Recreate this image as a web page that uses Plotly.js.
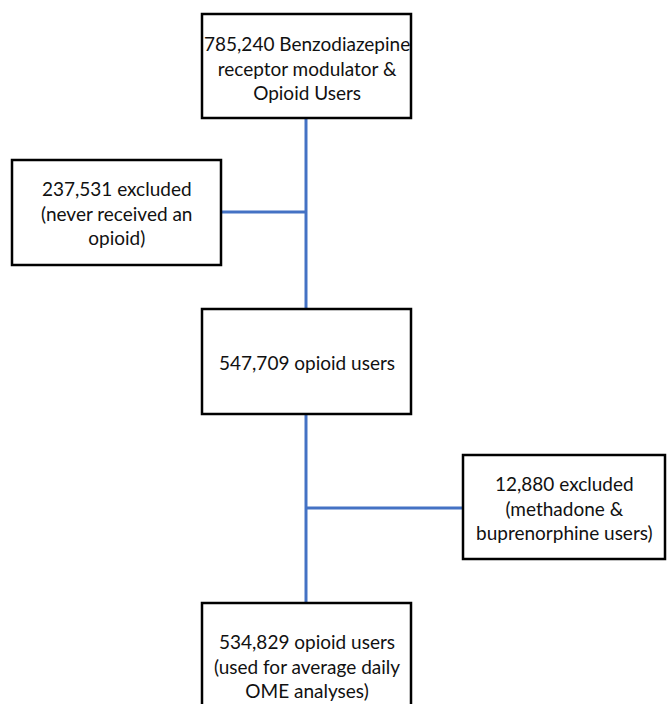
<!DOCTYPE html>
<html><head><meta charset="utf-8">
<script src="https://cdn.plot.ly/plotly-3.0.1.min.js"></script>
<style>html,body{margin:0;padding:0;background:#fff}#c{width:667px;height:704px}</style>
</head><body><div id="c"></div>
<script>
// Flowchart content
var counts = ["785,240", "237,531", "547,709", "12,880", "534,829"];
var labels = [
  "785,240 Benzodiazepine<br>receptor modulator &<br>Opioid Users",
  "237,531 excluded<br>(never received an<br>opioid)",
  "547,709 opioid users",
  "12,880 excluded<br>(methadone &<br>buprenorphine users)",
  "534,829 opioid users<br>(used for average daily<br>OME analyses)"
];
// Box layout (pixel frame): x0, x1, y0, y1
var boxX0 = [202, 12, 202, 463, 202];
var boxX1 = [411, 221, 411, 665, 411];
var boxY0 = [14, 160, 309, 455, 603];
var boxY1 = [118, 265, 414, 559, 727];
var textY = [68, 213, 362, 508, 666];
var spineX = 306;

var shapes = [];
var annotations = [];
var lineStyle = {color: '#4472C4', width: 3};
// connectors
shapes.push({type:'line', x0:spineX, x1:spineX, y0:boxY1[0], y1:boxY0[2], line:lineStyle});
shapes.push({type:'line', x0:boxX1[1], x1:spineX, y0:212, y1:212, line:lineStyle});
shapes.push({type:'line', x0:spineX, x1:spineX, y0:boxY1[2], y1:boxY0[4], line:lineStyle});
shapes.push({type:'line', x0:spineX, x1:boxX0[3], y0:508, y1:508, line:lineStyle});
for (var i = 0; i < labels.length; i++) {
  shapes.push({type:'rect', x0:boxX0[i], x1:boxX1[i], y0:boxY0[i], y1:boxY1[i],
    line:{color:'#000', width:2.5}, fillcolor:'#fff', layer:'above'});
  annotations.push({x:(boxX0[i]+boxX1[i])/2, y:textY[i], text:labels[i], showarrow:false,
    xanchor:'center', yanchor:'middle', align:'center',
    font:{family:'Lato, "Open Sans", sans-serif', size:19, color:'#111'}});
}

Plotly.newPlot('c', [{x:[], y:[], type:'scatter', hoverinfo:'skip'}], {
  width:667, height:704,
  margin:{l:0, r:0, t:0, b:0},
  paper_bgcolor:'#fff', plot_bgcolor:'#fff',
  showlegend:false,
  xaxis:{range:[0,667], visible:false, fixedrange:true},
  yaxis:{range:[704,0], visible:false, fixedrange:true},
  shapes:shapes,
  annotations:annotations
}, {displayModeBar:false, staticPlot:true});
</script></body></html>
